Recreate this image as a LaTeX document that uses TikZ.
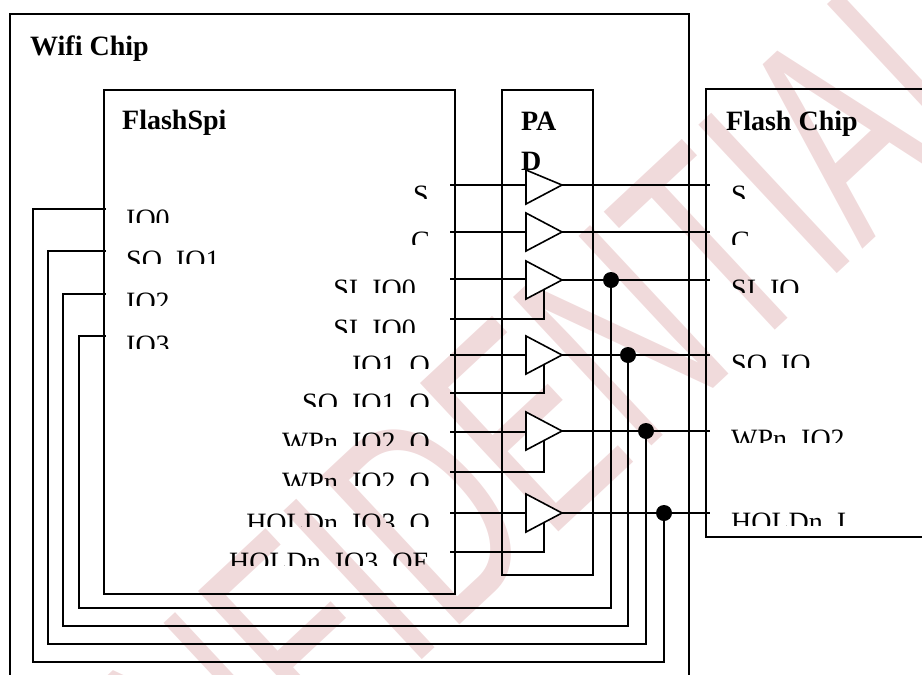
\documentclass[tikz,border=0pt]{standalone}
\usepackage{fontspec}
\setmainfont{Liberation Serif}
\newfontfamily\wmfont{Liberation Sans}
\definecolor{wm}{HTML}{F0DADB}
\newcommand{\lbl}[6]{% name, anchor, x, top, cut, text
  \begin{scope}\clip (#3-260,#4) rectangle (#3+260,#5);
  \node[lab,anchor=#2] (#1) at (#3,#5+6.5) {#6};\end{scope}}
\newcommand{\buf}[5]{% name, y-in, top, bottom, tip y
  \coordinate (#1a) at (526,#3); \coordinate (#1b) at (526,#4);
  \coordinate (#1t) at (562,#5);
  \coordinate (#1i) at (526,#2);
  \coordinate (#1o) at (562,#5);
  \coordinate (#1s) at (544,{#4-(#4-#5)*0.5});}
\tikzset{
  x=1pt,y=-1pt,
  lab/.style={inner sep=0pt,font=\fontsize{28}{32}\selectfont},
  head/.style={inner sep=0pt,anchor=base west,font=\fontsize{28}{32}\selectfont\bfseries},
  wire/.style={line width=1.6pt,black},
  box/.style={line width=1.6pt,black},
  bufshape/.style={line width=1.6pt,draw=black,fill=white},
  dot/.style={circle,fill=black,inner sep=0pt,minimum size=16pt}
}
\begin{document}
\begin{tikzpicture}
\useasboundingbox (0,0) rectangle (922,675);
% watermark
\begin{scope}
\clip (0,0) rectangle (922,675);
\node[wm,inner sep=0pt,anchor=base,rotate=43,font=\fontsize{295}{320}\wmfont] (mark) at (525,564) {\scalebox{0.64}[1]{CONFIDENTIAL}};
\end{scope}
% boxes
\draw[box] (10,675) -- (10,14) -- (689,14) -- (689,675);
\node[draw=black,line width=1.6pt,minimum width=351pt,minimum height=504pt,inner sep=0pt,anchor=north west] (spi) at (103,89) {};
\node[draw=black,line width=1.6pt,minimum width=91pt,minimum height=485pt,inner sep=0pt,anchor=north west] (pad) at (501,89) {};
\draw[box] (922,89) -- (706,89) -- (706,537) -- (922,537);
% headings
\node[head] (wifi) at (30,55) {Wifi Chip};
\node[head] (fs) at (122,129) {FlashSpi};
\node[head] (pa) at (521,130) {PA};
\node[head] (dd) at (521,170) {D};
\node[head] (fc) at (726,130) {Flash Chip};
% labels
\lbl{lIOa}{base west}{126}{190}{222}{IO0}
\lbl{lIOb}{base west}{126}{235}{263}{SO\_IO1}
\lbl{lIOc}{base west}{126}{280}{305}{IO2}
\lbl{lIOd}{base west}{126}{320}{348}{IO3}
\lbl{rS}{base east}{429}{170}{198}{S}
\lbl{rC}{base east}{430}{215}{244}{C}
\lbl{rSIa}{base east}{430}{265}{292}{SI\_IO0\_}
\lbl{rSIb}{base east}{430}{305}{332}{SI\_IO0\_}
\lbl{rIOa}{base east}{430}{340}{368}{IO1\_O}
\lbl{rSOb}{base east}{430}{380}{406}{SO\_IO1\_O}
\lbl{rWa}{base east}{430}{420}{445}{WPn\_IO2\_O}
\lbl{rWb}{base east}{430}{458}{485}{WPn\_IO2\_O}
\lbl{rHa}{base east}{430}{500}{526}{HOLDn\_IO3\_O}
\lbl{rHb}{base east}{430}{538}{565}{HOLDn\_IO3\_OE}
\lbl{fS}{base west}{731}{170}{198}{S}
\lbl{fC}{base west}{731}{215}{244}{C}
\lbl{fSI}{base west}{731}{265}{292}{SI\_IO}
\lbl{fSO}{base west}{731}{340}{367}{SO\_IO}
\lbl{fW}{base west}{731}{415}{442}{WPn\_IO2}
\lbl{fH}{base west}{731}{500}{525}{HOLDn\_I}
% pins
\foreach \n/\y in {pS/185,pC/232,pSIa/279,pSIb/319,pIOa/355,pSOb/393,pWa/432,pWb/472,pHa/513,pHb/552}
  \coordinate (\n) at (450,\y);
\foreach \n/\y in {qa/209,qb/251,qc/294,qd/336}
  \coordinate (\n) at (105.5,\y);
\foreach \n/\y in {oS/185,oC/232,oSI/280,oSO/355,oW/431,oH/513}
  \coordinate (\n) at (710,\y);
% junctions
\node[dot] (jSI) at (611,280) {};
\node[dot] (jSO) at (628,355) {};
\node[dot] (jW) at (646,431) {};
\node[dot] (jH) at (664,513) {};
% buffer geometry
\buf{bS}{185}{170}{204}{185}
\buf{bC}{232}{213}{251}{232}
\buf{bI}{279}{261}{299}{280}
\buf{bO}{355}{336}{374}{355}
\buf{bW}{432}{412}{450}{431}
\buf{bH}{513}{494}{532}{513}
% wires
\draw[wire] (pS) -- (bSi);
\draw[wire] (pC) -- (bCi);
\draw[wire] (pSIa) -- (bIi);
\draw[wire] (pIOa) -- (bOi);
\draw[wire] (pWa) -- (bWi);
\draw[wire] (pHa) -- (bHi);
\draw[wire] (bSo) -- (oS);
\draw[wire] (bCo) -- (oC);
\draw[wire] (bIo) -- (oSI);
\draw[wire] (bOo) -- (oSO);
\draw[wire] (bWo) -- (oW);
\draw[wire] (bHo) -- (oH);
\draw[wire] (pSIb) -- (544,319) -- (bIs);
\draw[wire] (pSOb) -- (544,393) -- (bOs);
\draw[wire] (pWb) -- (544,472) -- (bWs);
\draw[wire] (pHb) -- (544,552) -- (bHs);
\foreach \b in {bS,bC,bI,bO,bW,bH}
  \draw[bufshape] (\b a) -- (\b t) -- (\b b) -- cycle;
% bus wires
\draw[wire] (qa) -- (33,209) -- (33,662) -- (664,662) -- (jH);
\draw[wire] (qb) -- (48,251) -- (48,644) -- (646,644) -- (jW);
\draw[wire] (qc) -- (63,294) -- (63,626) -- (628,626) -- (jSO);
\draw[wire] (qd) -- (79,336) -- (79,608) -- (611,608) -- (jSI);
\end{tikzpicture}
\end{document}
